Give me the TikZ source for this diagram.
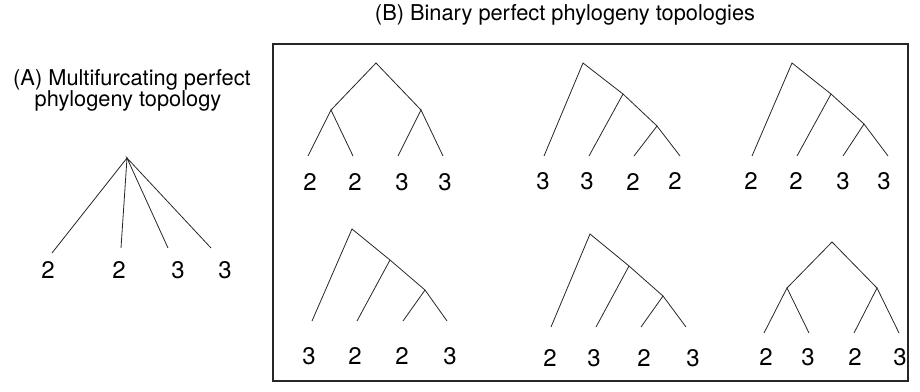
\documentclass[tikz,border=0pt]{standalone}
\usepackage{fontspec}
\setmainfont{TeX Gyre Heros}
\begin{document}
\begin{tikzpicture}[x=1pt,y=-1pt,
  branch/.style={draw=black!85, line width=0.8pt},
  leaflab/.style={anchor=base, inner sep=0pt, font=\fontsize{24}{28}\selectfont},
  titletext/.style={anchor=base, inner sep=0pt, font=\fontsize{21.8}{26}\selectfont},
  frame/.style={draw=black!85, line width=1.2pt}]
\useasboundingbox (0,0) rectangle (920,391);

% titles
\node[titletext] (tA1) at (132,85) {(A) Multifurcating perfect};
\node[titletext] (tA2) at (128,106) {phylogeny topology};
\node[titletext] (tB) at (565,20) {(B) Binary perfect phylogeny topologies};

% frame
\draw[frame] (273,44) rectangle (908,381);

% tree A (multifurcating)
\coordinate (A0) at (127,158);
\coordinate (Al1) at (52,253);
\coordinate (Al2) at (121,248);
\coordinate (Al3) at (168,248);
\coordinate (Al4) at (211,248);
\draw[branch] (Al1) -- (A0) -- (Al2);
\draw[branch] (Al3) -- (A0) -- (Al4);
\node[leaflab] (Ax1) at (48,278) {2};
\node[leaflab] (Ax2) at (119,278) {2};
\node[leaflab] (Ax3) at (178,278) {3};
\node[leaflab] (Ax4) at (225,278) {3};

% tree B1 balanced
\coordinate (Pr) at (376,63);
\coordinate (Pa) at (331,110);
\coordinate (Pb) at (421,110);
\coordinate (P1) at (308,156);
\coordinate (P2) at (353,156);
\coordinate (P3) at (398,156);
\coordinate (P4) at (443,156);
\draw[branch] (Pa) -- (Pr) -- (Pb);
\draw[branch] (P1) -- (Pa) -- (P2);
\draw[branch] (P3) -- (Pb) -- (P4);
\node[leaflab] (Px1) at (310,190) {2};
\node[leaflab] (Px2) at (355,190) {2};
\node[leaflab] (Px3) at (402,190) {3};
\node[leaflab] (Px4) at (445,190) {3};

% tree B2 caterpillar
\coordinate (Qr) at (583,63);
\coordinate (Qa) at (623,94);
\coordinate (Qb) at (657,126);
\coordinate (Q1) at (544,156);
\coordinate (Q2) at (589,156);
\coordinate (Q3) at (634,156);
\coordinate (Q4) at (680,156);
\draw[branch] (Q1) -- (Qr) -- (Qa) -- (Qb) -- (Q4);
\draw[branch] (Q2) -- (Qa);
\draw[branch] (Q3) -- (Qb);
\node[leaflab] (Qx1) at (543,189) {3};
\node[leaflab] (Qx2) at (587,189) {3};
\node[leaflab] (Qx3) at (633,190) {2};
\node[leaflab] (Qx4) at (675,189) {2};

% tree B3 caterpillar
\coordinate (Rr) at (792,63);
\coordinate (Ra) at (831,94);
\coordinate (Rb) at (864,124);
\coordinate (R1) at (752,156);
\coordinate (R2) at (797,156);
\coordinate (R3) at (843,156);
\coordinate (R4) at (888,156);
\draw[branch] (R1) -- (Rr) -- (Ra) -- (Rb) -- (R4);
\draw[branch] (R2) -- (Ra);
\draw[branch] (R3) -- (Rb);
\node[leaflab] (Rx1) at (751,189) {2};
\node[leaflab] (Rx2) at (796,189) {2};
\node[leaflab] (Rx3) at (843,189) {3};
\node[leaflab] (Rx4) at (884,189) {3};

% tree B4 caterpillar
\coordinate (Sr) at (352,229);
\coordinate (Sa) at (390,260);
\coordinate (Sb) at (425,290);
\coordinate (S1) at (312,321);
\coordinate (S2) at (357,321);
\coordinate (S3) at (403,321);
\coordinate (S4) at (447,321);
\draw[branch] (S1) -- (Sr) -- (Sa) -- (Sb) -- (S4);
\draw[branch] (S2) -- (Sa);
\draw[branch] (S3) -- (Sb);
\node[leaflab] (Sx1) at (309,364) {3};
\node[leaflab] (Sx2) at (355,364) {2};
\node[leaflab] (Sx3) at (402,364) {2};
\node[leaflab] (Sx4) at (450,364) {3};

% tree B5 caterpillar
\coordinate (Tr) at (590,234);
\coordinate (Ta) at (629,266);
\coordinate (Tb) at (663,296);
\coordinate (T1) at (551,327);
\coordinate (T2) at (596,327);
\coordinate (T3) at (641,327);
\coordinate (T4) at (686,327);
\draw[branch] (T1) -- (Tr) -- (Ta) -- (Tb) -- (T4);
\draw[branch] (T2) -- (Ta);
\draw[branch] (T3) -- (Tb);
\node[leaflab] (Tx1) at (550,366) {2};
\node[leaflab] (Tx2) at (594,366) {3};
\node[leaflab] (Tx3) at (644,366) {2};
\node[leaflab] (Tx4) at (693,366) {3};

% tree B6 balanced
\coordinate (Ur) at (832,242);
\coordinate (Ua) at (787,288);
\coordinate (Ub) at (877,288);
\coordinate (U1) at (764,333);
\coordinate (U2) at (809,333);
\coordinate (U3) at (854,333);
\coordinate (U4) at (899,333);
\draw[branch] (Ua) -- (Ur) -- (Ub);
\draw[branch] (U1) -- (Ua) -- (U2);
\draw[branch] (U3) -- (Ub) -- (U4);
\node[leaflab] (Ux1) at (766,365) {2};
\node[leaflab] (Ux2) at (808,365) {3};
\node[leaflab] (Ux3) at (855,365) {2};
\node[leaflab] (Ux4) at (900,365) {3};
\end{tikzpicture}
\end{document}
